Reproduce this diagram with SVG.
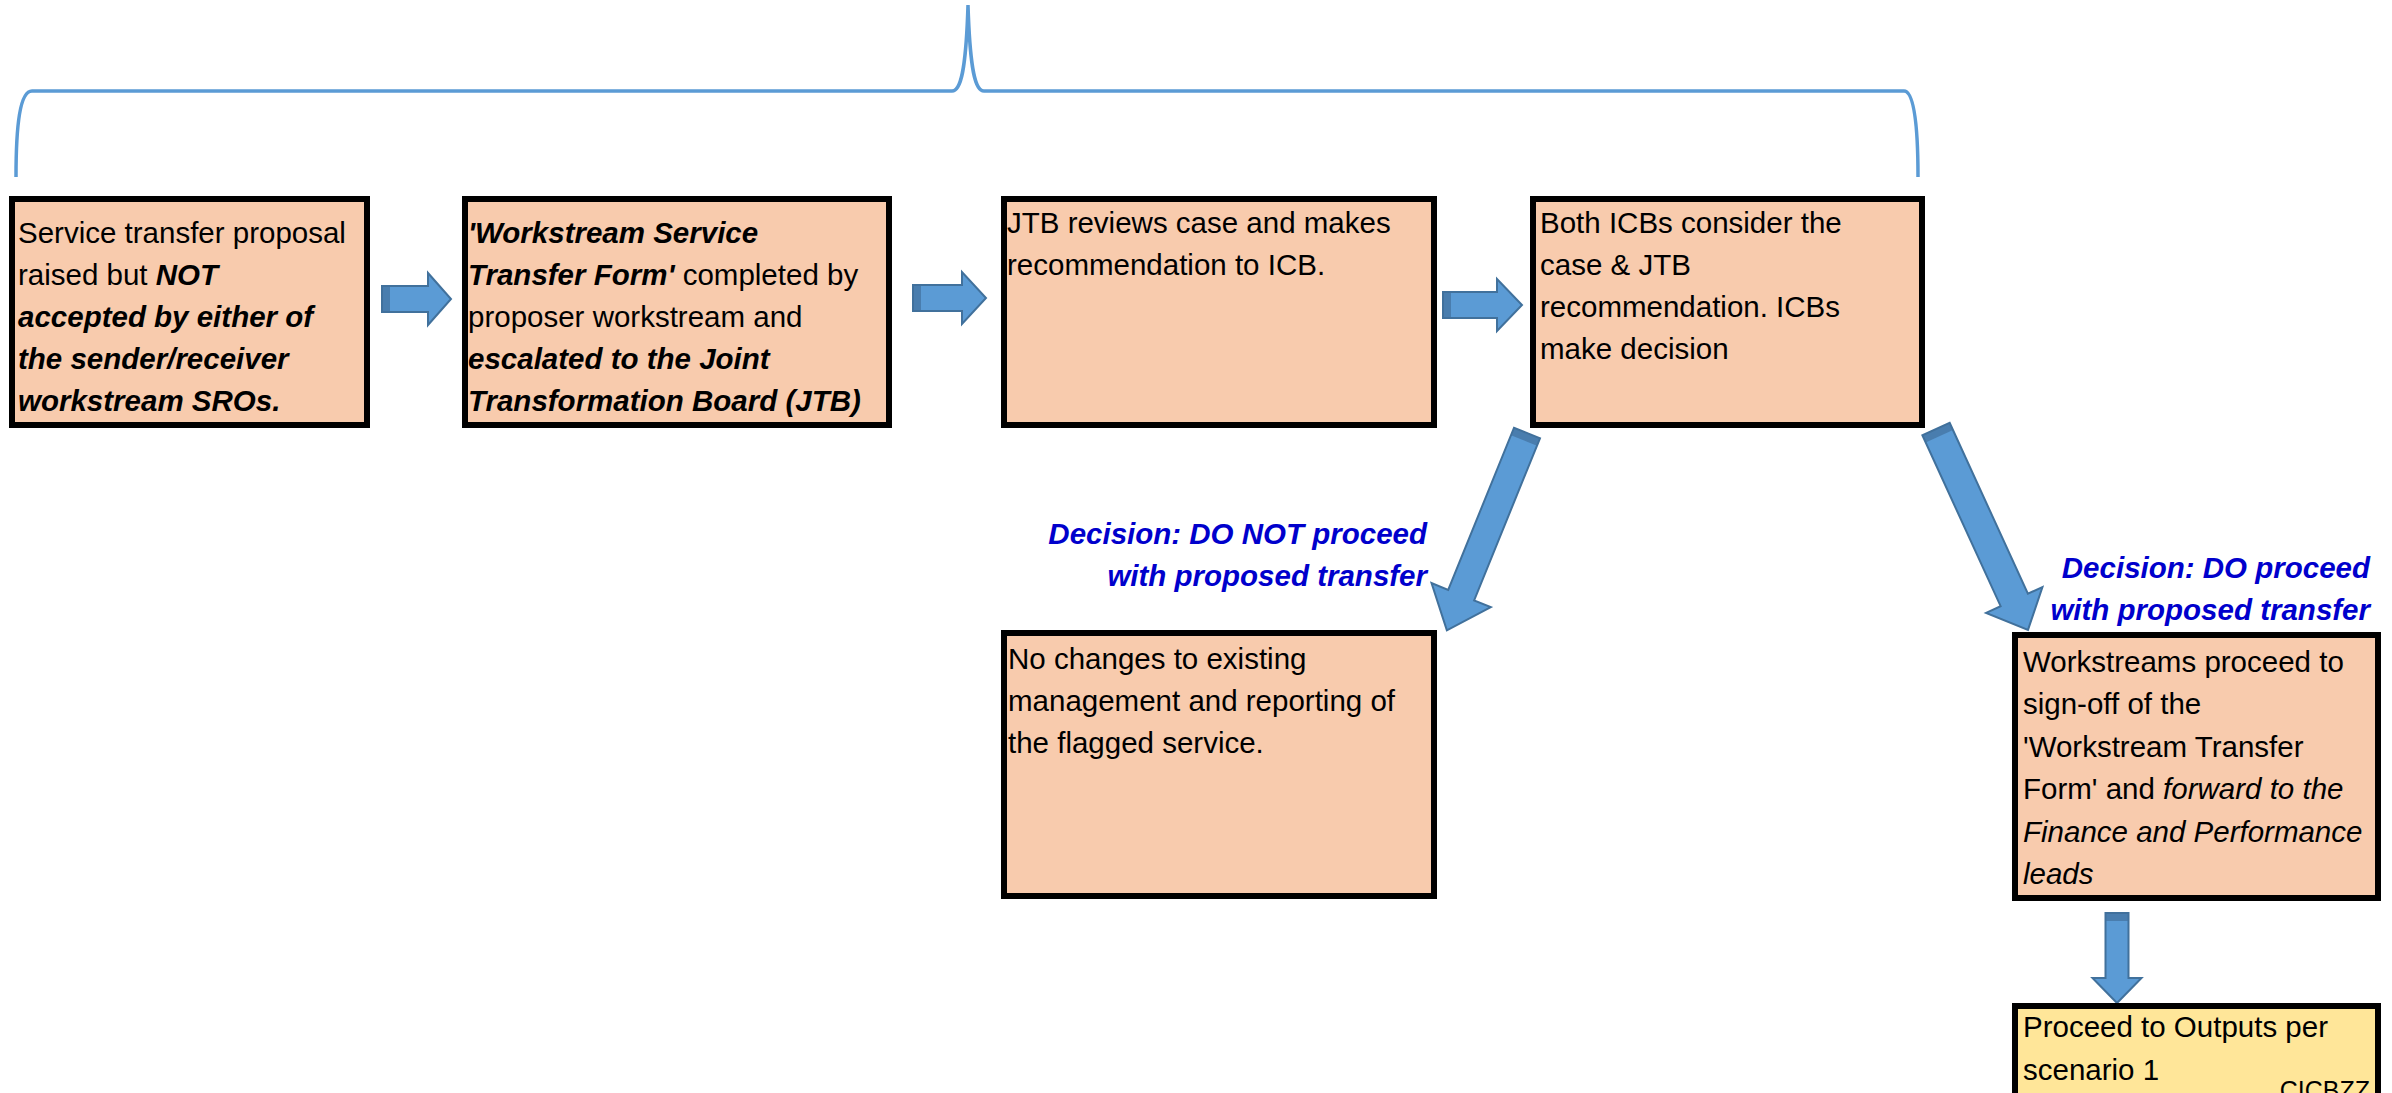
<svg xmlns="http://www.w3.org/2000/svg" width="2392" height="1093" viewBox="0 0 2392 1093">
<style>
.box{fill:#F8CBAD;stroke:#000;stroke-width:6}
.yel{fill:#FFE699;stroke:#000;stroke-width:6}
.t{font-family:"Liberation Sans",Arial,sans-serif;font-size:29.5px;fill:#000}
.bi{font-weight:bold;font-style:italic}
.i{font-style:italic}
.dec{font-family:"Liberation Sans",Arial,sans-serif;font-size:29.5px;font-weight:bold;font-style:italic;fill:#0000CC;text-anchor:end}
.arr{fill:#5B9BD5;stroke:#41719C;stroke-width:2}
.band{fill:#41719C;opacity:0.7}
.brace{fill:none;stroke:#5B9BD5;stroke-width:3.5}
</style>
<rect width="2392" height="1093" fill="#fff"/>
<g id="brace">
<path class="brace" d="M16,177 C16,125 20,91 32,91 L952,91 C961,91 966,70 968,5 C970,70 975,91 984,91 L1904,91 C1914,91 1918,125 1918,177"/>
</g>
<g id="connectors">
<g transform="translate(382,299)"><path class="arr" d="M0,-13 L46,-13 L46,-26 L69,0 L46,26 L46,13 L0,13 Z"/><rect class="band" x="0" y="-13" width="8" height="26"/></g>
<g transform="translate(913,298)"><path class="arr" d="M0,-13 L49,-13 L49,-26 L73,0 L49,26 L49,13 L0,13 Z"/><rect class="band" x="0" y="-13" width="8" height="26"/></g>
<g transform="translate(1443,305)"><path class="arr" d="M0,-13 L54,-13 L54,-26 L79,0 L54,26 L54,13 L0,13 Z"/><rect class="band" x="0" y="-13" width="8" height="26"/></g>
<g transform="translate(1527,433) rotate(112.1)"><path class="arr" d="M0,-14 L175,-14 L175,-32 L213,0 L175,32 L175,14 L0,14 Z"/><rect class="band" x="0" y="-14" width="8" height="28"/></g>
<g transform="translate(1936,429) rotate(65.4)"><path class="arr" d="M0,-15 L188,-15 L188,-31 L221,0 L188,31 L188,15 L0,15 Z"/><rect class="band" x="0" y="-15" width="8" height="30"/></g>
<g transform="translate(2117,913) rotate(90)"><path class="arr" d="M0,-11.5 L65,-11.5 L65,-24.5 L90,0 L65,24.5 L65,11.5 L0,11.5 Z"/><rect class="band" x="0" y="-11.5" width="8" height="23"/></g>
</g>
<g id="n1">
<rect class="box" x="12" y="199" width="355" height="226"/>
<text class="t" x="18" y="243">Service transfer proposal</text>
<text class="t" x="18" y="285">raised but <tspan class="bi">NOT</tspan></text>
<text class="t bi" x="18" y="327">accepted by either of</text>
<text class="t bi" x="18" y="369">the sender/receiver</text>
<text class="t bi" x="18" y="411">workstream SROs.</text>
</g>
<g id="n2">
<rect class="box" x="465" y="199" width="424" height="226"/>
<text class="t bi" x="468" y="243">'Workstream Service</text>
<text class="t" x="468" y="285"><tspan class="bi">Transfer Form'</tspan> completed by</text>
<text class="t" x="468" y="327">proposer workstream and</text>
<text class="t bi" x="468" y="369">escalated to the Joint</text>
<text class="t bi" x="468" y="411">Transformation Board (JTB)</text>
</g>
<g id="n3">
<rect class="box" x="1004" y="199" width="430" height="226"/>
<text class="t" x="1007" y="233">JTB reviews case and makes</text>
<text class="t" x="1007" y="275">recommendation to ICB.</text>
</g>
<g id="n4">
<rect class="box" x="1533" y="199" width="389" height="226"/>
<text class="t" x="1540" y="233">Both ICBs consider the</text>
<text class="t" x="1540" y="275">case &amp; JTB</text>
<text class="t" x="1540" y="317">recommendation. ICBs</text>
<text class="t" x="1540" y="359">make decision</text>
</g>
<g id="n5">
<rect class="box" x="1004" y="633" width="430" height="263"/>
<text class="t" x="1008" y="669">No changes to existing</text>
<text class="t" x="1008" y="711">management and reporting of</text>
<text class="t" x="1008" y="753">the flagged service.</text>
</g>
<g id="lbl1">
<text class="dec" x="1427" y="544">Decision: DO NOT proceed</text>
<text class="dec" x="1427" y="586">with proposed transfer</text>
</g>
<g id="lbl2">
<text class="dec" x="2370" y="578">Decision: DO proceed</text>
<text class="dec" x="2370" y="620">with proposed transfer</text>
</g>
<g id="n6">
<rect class="box" x="2015" y="635" width="363" height="263"/>
<text class="t" x="2023" y="672">Workstreams proceed to</text>
<text class="t" x="2023" y="714">sign-off of the</text>
<text class="t" x="2023" y="757">'Workstream Transfer</text>
<text class="t" x="2023" y="799">Form' and <tspan class="i">forward to the</tspan></text>
<text class="t i" x="2023" y="842">Finance and Performance</text>
<text class="t i" x="2023" y="884">leads</text>
</g>
<g id="n7">
<rect class="yel" x="2015" y="1006" width="363" height="100"/>
<text class="t" x="2023" y="1037">Proceed to Outputs per</text>
<text class="t" x="2023" y="1080">scenario 1</text>
<text class="t" x="2370" y="1099" style="font-size:25px;text-anchor:end">CICBZZ</text>
</g>
</svg>
